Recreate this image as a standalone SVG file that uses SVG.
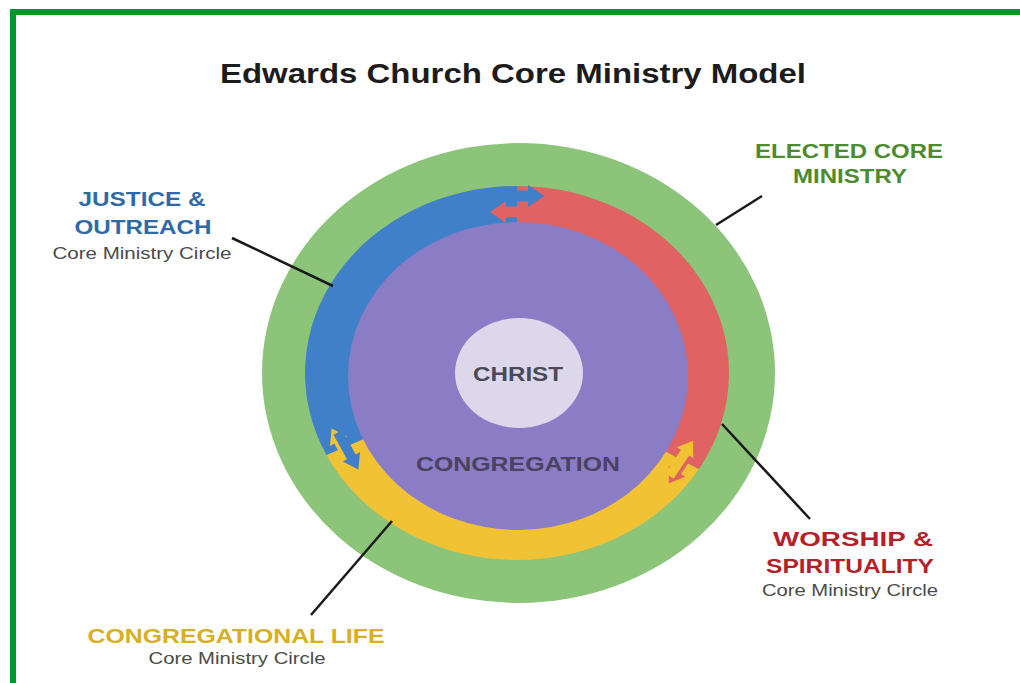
<svg xmlns="http://www.w3.org/2000/svg" width="1020" height="683" viewBox="0 0 1020 683">
<style>
.h{font-family:"Liberation Sans",Arial,sans-serif;font-weight:700;text-anchor:middle}
.s{font-family:"Liberation Sans",Arial,sans-serif;font-size:16px;fill:#4a4a4a;text-anchor:middle}
.lead{stroke:#1a1a1a;stroke-width:2.5;fill:none}
</style>
<defs>
<polygon id="arR" points="-20,-5.5 11,-5.5 11,-11 27,0 11,11 11,5.5 -20,5.5"/>
<polygon id="arL" points="20,-5.5 -11,-5.5 -11,-11 -27,0 -11,11 -11,5.5 20,5.5"/>
</defs>
<rect width="1020" height="683" fill="#ffffff"/>
<rect x="10" y="9" width="1010" height="6" fill="#07962b"/>
<rect x="10" y="9" width="6" height="674" fill="#07962b"/>
<text class="h" x="513" y="83" font-size="27" fill="#1c1c1c" textLength="586" lengthAdjust="spacingAndGlyphs">Edwards Church Core Ministry Model</text>

<g id="elected-core-ministry">
<ellipse cx="518.5" cy="373" rx="256.5" ry="230" fill="#8cc47a"/>
</g>
<g id="worship-spirituality-ring">
<path d="M517,373 L517,186 A212,187 0 0 1 698.7,469.3 Z" fill="#e06262"/>
</g>
<g id="congregational-life-ring">
<path d="M517,373 L698.7,469.3 A212,187 0 0 1 326.5,455 Z" fill="#f2c235"/>
</g>
<g id="justice-outreach-ring">
<path d="M517,373 L326.5,455 A212,187 0 0 1 517,186 Z" fill="#3f80c8"/>
</g>
<g id="ring-arrows">
<g transform="translate(517,204)">
<use href="#arR" y="-8" fill="#3f80c8"/>
<use href="#arL" y="8" fill="#e06262"/>
</g>
<g transform="translate(345,449) rotate(-119) scale(0.9)">
<use href="#arR" y="-2" fill="#f2c235"/>
<use href="#arL" y="2" fill="#3f80c8"/>
</g>
<g transform="translate(681,462) rotate(124) scale(0.9)">
<use href="#arR" y="-2" fill="#e06262"/>
<use href="#arL" y="2" fill="#f2c235"/>
</g>
</g>
<g id="congregation">
<ellipse cx="518" cy="376" rx="170" ry="154" fill="#8b7cc6"/>
<text class="h" x="518" y="471" font-size="21" fill="#4b4262" textLength="204" lengthAdjust="spacingAndGlyphs">CONGREGATION</text>
</g>
<g id="christ">
<ellipse cx="519" cy="373" rx="64" ry="55" fill="#ddd7ec"/>
<text class="h" x="518" y="381" font-size="21" fill="#4a4a58" textLength="90" lengthAdjust="spacingAndGlyphs">CHRIST</text>
</g>

<g id="connectors">
<line class="lead" x1="232" y1="238" x2="333" y2="286"/>
<line class="lead" x1="762" y1="196" x2="716" y2="225"/>
<line class="lead" x1="722" y1="424" x2="810" y2="519"/>
<line class="lead" x1="392" y1="521" x2="311" y2="615"/>
</g>

<g id="label-justice">
<text class="h" x="142" y="206" font-size="21" fill="#2f6aa7" textLength="127" lengthAdjust="spacingAndGlyphs">JUSTICE &amp;</text>
<text class="h" x="143" y="234" font-size="21" fill="#2f6aa7" textLength="137" lengthAdjust="spacingAndGlyphs">OUTREACH</text>
<text class="s" x="142" y="259" textLength="179" lengthAdjust="spacingAndGlyphs">Core Ministry Circle</text>
</g>
<g id="label-elected">
<text class="h" x="849" y="158" font-size="21" fill="#4e8a2e" textLength="188" lengthAdjust="spacingAndGlyphs">ELECTED CORE</text>
<text class="h" x="850" y="183" font-size="21" fill="#4e8a2e" textLength="114" lengthAdjust="spacingAndGlyphs">MINISTRY</text>
</g>
<g id="label-worship">
<text class="h" x="853" y="546" font-size="21" fill="#b41f2a" textLength="160" lengthAdjust="spacingAndGlyphs">WORSHIP &amp;</text>
<text class="h" x="850" y="573" font-size="21" fill="#b41f2a" textLength="168" lengthAdjust="spacingAndGlyphs">SPIRITUALITY</text>
<text class="s" x="850" y="596" textLength="176" lengthAdjust="spacingAndGlyphs">Core Ministry Circle</text>
</g>
<g id="label-congregational">
<text class="h" x="236" y="643" font-size="21" fill="#d8ae22" textLength="297" lengthAdjust="spacingAndGlyphs">CONGREGATIONAL LIFE</text>
<text class="s" x="237" y="664" textLength="177" lengthAdjust="spacingAndGlyphs">Core Ministry Circle</text>
</g>
</svg>
